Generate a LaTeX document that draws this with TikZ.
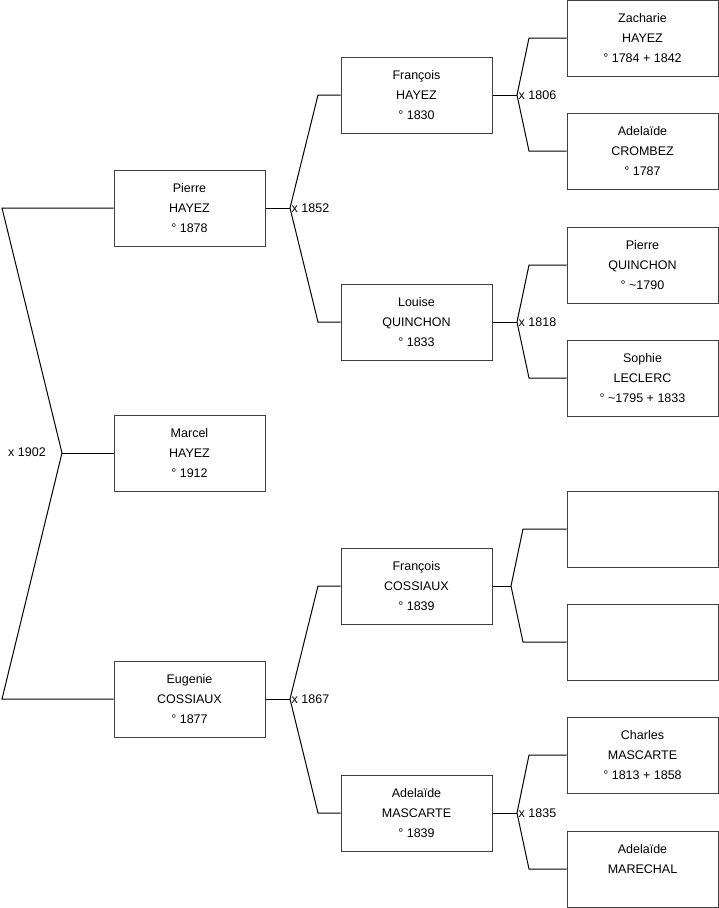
\documentclass[tikz,border=0pt]{standalone}
\usepackage{fontspec}
\setmainfont{Liberation Sans}
\usetikzlibrary{positioning}

\tikzset{
  personne/.style={draw=black!75, line width=1pt, minimum width=151pt, minimum height=76pt,
    inner sep=0pt, align=center, font=\fontsize{12.5}{20}\selectfont},
  lien/.style={line width=1pt, black},
  mariage/.style={font=\fontsize{12.5}{14}\selectfont, inner sep=1.5pt}
}

\begin{document}
\begin{tikzpicture}[x=1pt, y=-1pt]
    \useasboundingbox (0,0) rectangle (719,908);
    % 1. Enfant
    \node[personne] (marcel) at (189.5,453) {Marcel\\HAYEZ\\° 1912};

    % 2. Parents
    \node[personne] (pierre)  at (189.5,208) {Pierre\\HAYEZ\\° 1878};
    \node[personne] (eugenie) at (189.5,699) {Eugenie\\COSSIAUX\\° 1877};

    % 3. Grands-parents
    \node[personne] (francoisH) at (416.5,95)  {François\\HAYEZ\\° 1830};
    \node[personne] (louise)    at (416.5,322) {Louise\\QUINCHON\\° 1833};
    \node[personne] (francoisC) at (416.5,586) {François\\COSSIAUX\\° 1839};
    \node[personne] (adelaideM) at (416.5,813) {Adelaïde\\MASCARTE\\° 1839};

    % 4. Arrière-grands-parents
    \node[personne] (zacharie)  at (642.5,38)  {Zacharie\\HAYEZ\\° 1784 + 1842};
    \node[personne] (adelaideC) at (642.5,151) {Adelaïde\\CROMBEZ\\° 1787};
    \node[personne] (pierreQ)   at (642.5,265) {Pierre\\QUINCHON\\° \textasciitilde1790};
    \node[personne] (sophie)    at (642.5,378) {Sophie\\LECLERC\\° \textasciitilde1795 + 1833};
    \node[personne] (inconnu1)  at (642.5,529) {};
    \node[personne] (inconnu2)  at (642.5,642) {};
    \node[personne] (charles)   at (642.5,755) {Charles\\MASCARTE\\° 1813 + 1858};
    \node[personne] (adelaideR) at (642.5,869) {Adelaïde\\MARECHAL\\~};

    % 5. Mariages
    \coordinate (m1902) at (62,453);
    \coordinate (m1852) at (290,208);
    \coordinate (m1867) at (290,699);
    \coordinate (m1806) at (517,95);
    \coordinate (m1818) at (517,322);
    \coordinate (mC)    at (511,586);
    \coordinate (m1835) at (517,813);

    \draw[lien] (marcel.west) -- (m1902);
    \draw[lien] (pierre.west) -- (2,208) -- (m1902) -- (2,699) -- (eugenie.west);
    \node[mariage] at (27,452) {x 1902};

    \draw[lien] (pierre.east) -- (m1852);
    \draw[lien] (francoisH.west) -- (318,95) -- (m1852) -- (318,322) -- (louise.west);
    \node[mariage, right] at (m1852) {x 1852};

    \draw[lien] (eugenie.east) -- (m1867);
    \draw[lien] (francoisC.west) -- (318,586) -- (m1867) -- (318,813) -- (adelaideM.west);
    \node[mariage, right] at (m1867) {x 1867};

    \draw[lien] (francoisH.east) -- (m1806);
    \draw[lien] (zacharie.west) -- (529,38) -- (m1806) -- (529,151) -- (adelaideC.west);
    \node[mariage, right] at (m1806) {x 1806};

    \draw[lien] (louise.east) -- (m1818);
    \draw[lien] (pierreQ.west) -- (529,265) -- (m1818) -- (529,378) -- (sophie.west);
    \node[mariage, right] at (m1818) {x 1818};

    \draw[lien] (francoisC.east) -- (mC);
    \draw[lien] (inconnu1.west) -- (523,529) -- (mC) -- (523,642) -- (inconnu2.west);

    \draw[lien] (adelaideM.east) -- (m1835);
    \draw[lien] (charles.west) -- (529,755) -- (m1835) -- (529,869) -- (adelaideR.west);
    \node[mariage, right] at (m1835) {x 1835};
\end{tikzpicture}
\end{document}
